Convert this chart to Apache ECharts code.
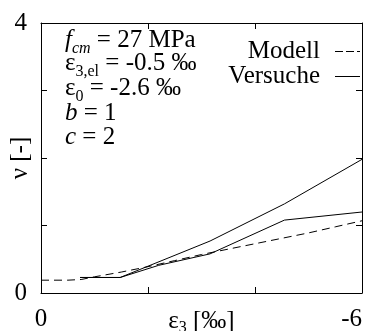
<!DOCTYPE html>
<html>
<head>
<meta charset="utf-8">
<script src="https://cdn.jsdelivr.net/npm/echarts@6/dist/echarts.min.js"></script>
<style>
  html, body { margin: 0; padding: 0; background: #fff; }
  #chart { width: 373px; height: 331px; }
</style>
</head>
<body>
<div id="chart"></div>
<script>
// Modell (gestrichelt)
const modelEps = [0, -0.5, -0.75, -1, -1.5, -2, -2.5, -3, -3.5, -4, -4.5, -5, -5.5, -6];
const modelNu = [0.19, 0.19, 0.2, 0.24, 0.31, 0.39, 0.48, 0.57, 0.65, 0.73, 0.81, 0.89, 0.98, 1.07];
// Versuche (durchgezogen)
const test1Eps = [-0.73, -1.48, -3.16, -4.55, -6];
const test1Nu = [0.23, 0.23, 0.77, 1.32, 1.98];
const test2Eps = [-0.73, -1.48, -2.2, -3.16, -4.55, -6];
const test2Nu = [0.23, 0.23, 0.41, 0.58, 1.08, 1.2];
// Achsen
const xTickLabels = [0, -6];
const yTickLabels = [0, 4];

const FONT = "Liberation Serif";
const FS = 25;

function pairs(xs, ys) {
  return xs.map((x, i) => [x, ys[i]]);
}

// Textzeilen oben links
const rich = {
  n: { fontFamily: FONT, fontSize: FS, lineHeight: FS, color: "#000" },
  i: { fontFamily: FONT, fontSize: FS, lineHeight: FS, fontStyle: "italic", color: "#000" },
  s: { fontFamily: FONT, fontSize: 16, lineHeight: 16, padding: [16, 0, 0, 0], color: "#000" },
  si: { fontFamily: FONT, fontSize: 16, lineHeight: 16, padding: [16, 0, 0, 0], fontStyle: "italic", color: "#000" }
};
const noteLines = [
  "{i|f}{si|cm}{n| = 27 MPa}",
  "{n|ε}{s|3,el}{n| = -0.5 ‰}",
  "{n|ε}{s|0}{n| = -2.6 ‰}",
  "{i|b}{n| = 1}",
  "{i|c}{n| = 2}"
];
const noteBase = [49, 72, 97, 122, 146];

const graphics = noteLines.map((t, k) => ({
  type: "text",
  x: 65,
  y: noteBase[k] - 0.3375 * FS,
  style: { text: t, rich: rich, verticalAlign: "middle", align: "left" }
}));

let chart = echarts.init(document.getElementById("chart"), null, { renderer: "canvas" });

const axisLine = { show: true, onZero: false, lineStyle: { color: "#000", width: 1 } };
const tick = { show: true, inside: true, length: 6, lineStyle: { color: "#000", width: 1 } };

chart.setOption({
  animation: false,
  backgroundColor: "#fff",
  grid: { left: 41, right: 11, top: 23, bottom: 38, outerBoundsMode: "none", containLabel: false },
  legend: {
    orient: "vertical",
    right: 13,
    top: 39,
    padding: 0,
    itemGap: 0,
    itemWidth: 25,
    itemHeight: 1,
    align: "right",
    data: [
      { name: "Modell", icon: "path://M0,0h8v1h-8zM11,0h8v1h-8zM22,0h3v1h-3z" },
      { name: "Versuche", icon: "path://M0,0h25v1h-25z" }
    ],
    textStyle: { fontFamily: FONT, fontSize: FS, color: "#000", lineHeight: 25, padding: [0, 10, 0, 0] }
  },
  xAxis: [
    {
      type: "value",
      min: -6,
      max: 0,
      interval: 2,
      inverse: true,
      position: "bottom",
      axisLine: axisLine,
      axisTick: tick,
      splitLine: { show: false },
      axisLabel: {
        margin: 14,
        fontFamily: FONT,
        fontSize: FS,
        color: "#000",
        alignMinLabel: "right",
        formatter: v => (xTickLabels.indexOf(v) >= 0 ? String(v) : "")
      },
      name: "{e|ε}{s|3}{n| [‰]}",
      nameLocation: "middle",
      nameGap: 13,
      nameMoveOverlap: false,
      nameTextStyle: {
        rich: {
          e: { fontFamily: FONT, fontSize: FS, color: "#000" },
          n: { fontFamily: FONT, fontSize: FS, color: "#000" },
          s: { fontFamily: FONT, fontSize: 16, color: "#000", padding: [14, 0, 0, 0] }
        }
      }
    },
    {
      type: "value",
      min: -6,
      max: 0,
      interval: 2,
      inverse: true,
      position: "top",
      axisLine: axisLine,
      axisTick: tick,
      axisLabel: { show: false },
      splitLine: { show: false }
    }
  ],
  yAxis: [
    {
      type: "value",
      min: 0,
      max: 4,
      interval: 1,
      position: "left",
      axisLine: axisLine,
      axisTick: tick,
      splitLine: { show: false },
      axisLabel: {
        margin: 14,
        fontFamily: FONT,
        fontSize: FS,
        color: "#000",
        formatter: v => (yTickLabels.indexOf(v) >= 0 ? String(v) : "")
      },
      name: "ν [-]",
      nameLocation: "middle",
      nameGap: 8,
      nameMoveOverlap: false,
      nameTextStyle: { fontFamily: FONT, fontSize: FS, color: "#000" }
    },
    {
      type: "value",
      min: 0,
      max: 4,
      interval: 1,
      position: "right",
      axisLine: axisLine,
      axisTick: tick,
      axisLabel: { show: false },
      splitLine: { show: false }
    }
  ],
  series: [
    {
      name: "Modell",
      type: "line",
      data: pairs(modelEps, modelNu),
      symbol: "none",
      color: "#000",
      lineStyle: { color: "#000", width: 1, type: [8, 5] }
    },
    {
      name: "Versuche",
      type: "line",
      data: pairs(test1Eps, test1Nu),
      symbol: "none",
      color: "#000",
      lineStyle: { color: "#000", width: 1 }
    },
    {
      name: "Versuche",
      type: "line",
      data: pairs(test2Eps, test2Nu),
      symbol: "none",
      color: "#000",
      lineStyle: { color: "#000", width: 1 }
    }
  ],
  graphic: graphics
});
</script>
</body>
</html>
